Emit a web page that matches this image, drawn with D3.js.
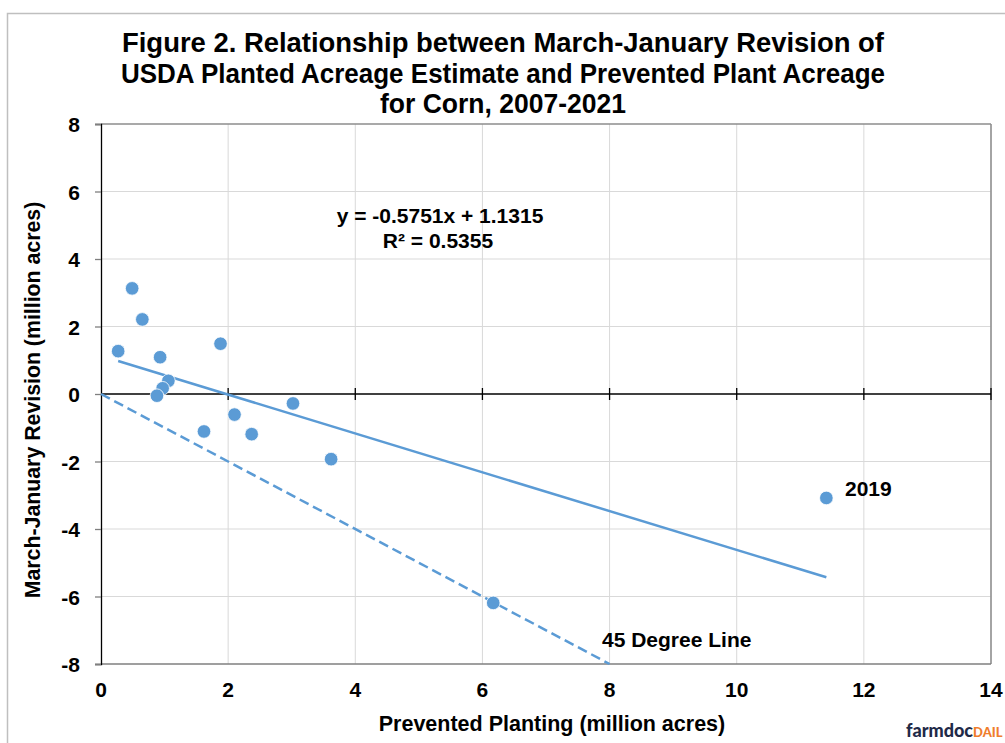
<!DOCTYPE html>
<html><head><meta charset="utf-8">
<script src="https://cdn.jsdelivr.net/npm/d3@7"></script>
<style>body{margin:0;background:#fff;}svg{display:block;font-family:"Liberation Sans",Arial,sans-serif;}</style>
</head><body><svg id="c" width="1005" height="743"></svg>
<script>
const prevented = [0.27,0.49,0.65,0.93,1.88,1.06,0.97,0.88,3.02,2.10,1.62,2.37,3.62,6.17,11.41];
const revision  = [1.27,3.13,2.21,1.09,1.49,0.39,0.17,-0.05,-0.28,-0.61,-1.11,-1.19,-1.93,-6.19,-3.08];
const slope = -0.5751, intercept = 1.1315;
const xTicks = [0,2,4,6,8,10,12,14];
const yTicks = [-8,-6,-4,-2,0,2,4,6,8];
const titleLines = ["Figure 2. Relationship between March-January Revision of","USDA Planted Acreage Estimate and Prevented Plant Acreage","for Corn, 2007-2021"];

const svg = d3.select("#c");
const L=101,R=991,T=124,B=664;
const x = d3.scaleLinear().domain([0,14]).range([L,R]);
const y = d3.scaleLinear().domain([-8,8]).range([B,T]);
const blue="#5b9bd5";
const fmt = d => String(d);

svg.append("rect").attr("x",7.5).attr("y",13.5).attr("width",1100).attr("height",1000).attr("fill","none").attr("stroke","#bfbfbf").attr("stroke-width",1.5);

// title
const tw=[762,764,246];
const tb=[52,83,113];
titleLines.forEach((t,i)=>{
  svg.append("text").attr("x",503).attr("y",tb[i]).attr("text-anchor","middle")
    .attr("font-size",28).attr("font-weight","bold").attr("fill","#000")
    .attr("textLength",tw[i]).attr("lengthAdjust","spacingAndGlyphs").text(t);
});

// grid
svg.append("g").selectAll("line").data(xTicks.filter(d=>d>0)).join("line")
  .attr("x1",d=>x(d)).attr("x2",d=>x(d)).attr("y1",T).attr("y2",B).attr("stroke","#d9d9d9").attr("stroke-width",1);
svg.append("g").selectAll("line").data(yTicks.filter(d=>d>-8&&d<8&&d!==0)).join("line")
  .attr("x1",L).attr("x2",R).attr("y1",d=>y(d)).attr("y2",d=>y(d)).attr("stroke","#d9d9d9").attr("stroke-width",1);
// plot borders
svg.append("line").attr("x1",L).attr("x2",R).attr("y1",T).attr("y2",T).attr("stroke","#8c8c8c").attr("stroke-width",1.5);
svg.append("line").attr("x1",R).attr("x2",R).attr("y1",T).attr("y2",B).attr("stroke","#8c8c8c").attr("stroke-width",1.5);
svg.append("line").attr("x1",L).attr("x2",R).attr("y1",B).attr("y2",B).attr("stroke","#7f7f7f").attr("stroke-width",1.5);

// y axis
const yAx = svg.append("g").attr("transform",`translate(${L},0)`)
  .call(d3.axisLeft(y).tickValues(yTicks).tickSize(6).tickPadding(15).tickFormat(fmt));
yAx.select(".domain").attr("stroke","#000").attr("stroke-width",1.3);
yAx.selectAll(".tick line").attr("stroke","#7f7f7f").attr("stroke-width",1.3);
yAx.selectAll(".tick text").attr("font-size",21).attr("font-weight","bold").attr("fill","#000").attr("font-family","Liberation Sans, Arial, sans-serif").attr("dy","0.36em");

// x axis at y=0 (line with cross ticks)
svg.append("line").attr("x1",L).attr("x2",R).attr("y1",y(0)).attr("y2",y(0)).attr("stroke","#000").attr("stroke-width",1.3);
svg.append("g").selectAll("line").data(xTicks.filter(d=>d>0)).join("line")
  .attr("x1",d=>x(d)).attr("x2",d=>x(d)).attr("y1",y(0)-6).attr("y2",y(0)+6).attr("stroke","#000").attr("stroke-width",1.3);
// x tick labels at bottom
svg.append("g").selectAll("text").data(xTicks).join("text")
  .attr("x",d=>x(d)).attr("y",B+33).attr("text-anchor","middle").attr("font-size",21).attr("font-weight","bold").text(fmt);

// 45 degree line
svg.append("line").attr("x1",x(0)).attr("y1",y(0)).attr("x2",x(8)).attr("y2",y(-8))
  .attr("stroke",blue).attr("stroke-width",2.5).attr("stroke-dasharray","10,5");
// trend line
const xmin=d3.min(prevented), xmax=d3.max(prevented);
svg.append("line").attr("x1",x(xmin)).attr("y1",y(slope*xmin+intercept)).attr("x2",x(xmax)).attr("y2",y(slope*xmax+intercept))
  .attr("stroke",blue).attr("stroke-width",2.5);

// points
svg.append("g").selectAll("circle").data(prevented).join("circle")
  .attr("cx",d=>x(d)).attr("cy",(d,i)=>y(revision[i])).attr("r",6.8).attr("fill",blue)
  .attr("stroke","#fff").attr("stroke-width",0.8);

// annotations
svg.append("text").attr("x",440).attr("y",223).attr("text-anchor","middle").attr("font-size",21).attr("font-weight","bold").text("y = -0.5751x + 1.1315");
svg.append("text").attr("x",438).attr("y",248).attr("text-anchor","middle").attr("font-size",21).attr("font-weight","bold").text("R² = 0.5355");
svg.append("text").attr("x",602).attr("y",647).attr("font-size",21).attr("font-weight","bold").text("45 Degree Line");
svg.append("text").attr("x",845).attr("y",496).attr("font-size",21).attr("font-weight","bold").text("2019");

// axis titles
svg.append("text").attr("x",552).attr("y",731).attr("text-anchor","middle").attr("font-size",21.5).attr("font-weight","bold").text("Prevented Planting (million acres)");
svg.append("text").attr("transform","translate(40,400) rotate(-90)").attr("text-anchor","middle").attr("font-size",21.3).attr("font-weight","bold").text("March-January Revision (million acres)");

// logo
const lg = svg.append("text").attr("x",906).attr("y",737).attr("font-family","Lato, 'Open Sans', sans-serif").attr("font-weight","900");
lg.append("tspan").attr("fill","#1f2a48").attr("font-size",18).text("farmdoc");
lg.append("tspan").attr("fill","#ef7d2d").attr("font-size",13).text("DAIL");
</script></body></html>
